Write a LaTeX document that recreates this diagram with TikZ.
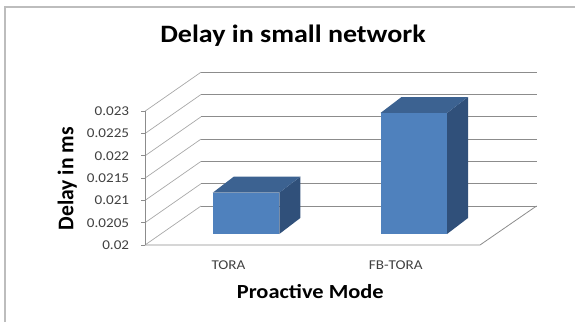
\documentclass[tikz,border=0pt]{standalone}
\usepackage{fontspec}
\setmainfont{Carlito}
\usepackage{graphicx}
\definecolor{barfront}{HTML}{4F81BD}
\definecolor{bartop}{HTML}{3C6291}
\definecolor{barside}{HTML}{30507A}
\definecolor{gridc}{HTML}{8C8C8C}
\definecolor{diagc}{HTML}{A8A8A8}
\definecolor{labc}{HTML}{404040}
\definecolor{framec}{HTML}{BDBDBD}
\newcommand{\hs}[1]{\scalebox{1.12}[1]{#1}}
\newcommand{\drawbar}[4]{%
  \fill[barside] (#2,#3) -- (#2+21,#3-16) -- (#2+21,#4-16) -- (#2,#4) -- cycle;
  \fill[bartop] (#1,#3) -- (#1+21,#3-16) -- (#2+21,#3-16) -- (#2,#3) -- cycle;
  \fill[barfront] (#1,#3) rectangle (#2,#4);}
\begin{document}
\begin{tikzpicture}[x=1pt,y=-1pt,
  gridline/.style={draw=gridc, line width=0.8pt},
  diagline/.style={draw=diagc, line width=0.7pt},
  ticklab/.style={anchor=base east, inner sep=0pt, font=\fontsize{13.5}{14}\selectfont, text=labc},
  catlab/.style={anchor=base, inner sep=0pt, font=\fontsize{13.5}{14}\selectfont, text=labc},
  axtitle/.style={inner sep=0pt, font=\fontsize{20}{22}\selectfont\bfseries}]
\useasboundingbox (0,0) rectangle (575,322);
% frame
\draw[framec, line width=2pt] (5.3,322) -- (5.3,7) -- (575,7);
% title
\node[axtitle, anchor=base, font=\fontsize{25}{28}\selectfont\bfseries] (title) at (293,42.7) {\hs{Delay in small network}};
% grid: back lines and left wall
\foreach \k/\lab in {0/0.02,1/0.0205,2/0.021,3/0.0215,4/0.022,5/0.0225,6/0.023}{
  \pgfmathsetmacro{\yy}{245-22.3*\k}
  \draw[gridline] (201,\yy-39) -- (536.5,\yy-39);
  \draw[diagline] (145,\yy) -- (201,\yy-39);
  \draw[gridline] (141,\yy) -- (145,\yy);
  \node[ticklab] (t\k) at (129.3,\yy+4.3) {\hs{\lab}};
}
% floor
\draw[gridline] (145,245) -- (480,245) -- (536.5,206);
% front axis
\draw[gridline] (145,111.2) -- (145,245);
% bars
\drawbar{212.7}{279.3}{192.7}{234}
\drawbar{380.5}{447}{113}{234}
% category labels
\node[catlab] (c1) at (228.5,269.3) {\hs{TORA}};
\node[catlab] (c2) at (395.8,269.3) {\hs{FB-TORA}};
% axis titles
\node[axtitle, anchor=base] (xt) at (310.3,298.3) {\hs{Proactive Mode}};
\node[axtitle, rotate=90] (yt) at (67.3,178.7) {\scalebox{1.08}[1.12]{Delay in ms}};
\end{tikzpicture}
\end{document}
